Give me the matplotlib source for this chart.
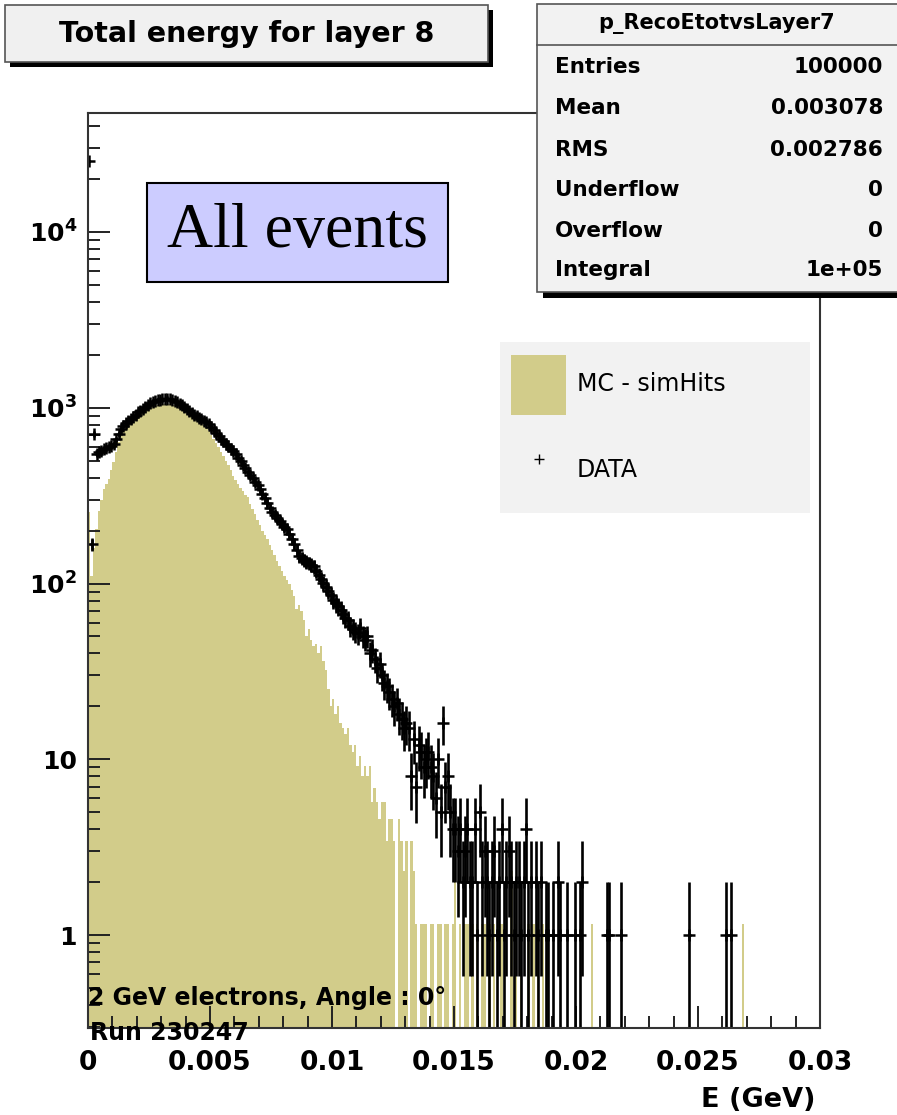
import matplotlib
matplotlib.use("Agg")
import matplotlib.pyplot as plt
import numpy as np
from matplotlib.patches import Rectangle
from matplotlib.lines import Line2D
from matplotlib.ticker import FixedLocator, FixedFormatter, MultipleLocator, FuncFormatter

plt.rcParams['font.family'] = ['DejaVu Sans']
plt.rcParams['mathtext.fontset'] = 'dejavusans'

# histogram binning: 300 bins of 0.0001 GeV
bin_width = 0.0001
n_bins = 300

# MC - simHits (weighted, ~1.15 per entry in the tail)
mc_counts = [
    255, 110, 160, 204, 260, 300, 345, 370, 393, 440,
    491, 560, 640, 700, 750, 790, 830, 865, 895, 920,
    940, 960, 975, 990, 1000, 1010, 1020, 1030, 1040, 1045,
    1050, 1055, 1054, 1050, 1045, 1035, 1020, 1010, 1000, 986,
    965, 945, 925, 900, 880, 850, 832, 800, 770, 740,
    700, 665, 630, 595, 560, 530, 500, 470, 440, 410,
    390, 370, 350, 335, 320, 310, 285, 265, 250, 230,
    215, 200, 190, 180, 165, 155, 145, 135, 125, 118,
    110, 105, 100, 92, 85, 72, 75, 70, 62, 50,
    55, 48, 44, 45, 40, 44, 36, 32, 25, 20,
    22, 18, 20, 16, 15, 14, 15, 12, 11, 12,
    9.2, 10.4, 8, 9.2, 8, 9.2, 5.75, 6.9, 5.75, 4.6,
    5.75, 5.75, 3.45, 4.6, 4.6, 3.45, 0, 4.6, 3.45, 2.3,
    3.45, 0, 3.45, 2.3, 1.15, 0, 1.15, 1.15, 1.15, 0,
    1.15, 1.15, 0, 1.15, 1.15, 0, 1.15, 1.15, 0, 1.15,
    2.3, 0, 1.15, 0, 1.15, 1.15, 0, 1.15, 0, 1.15,
    0, 1.15, 1.15, 0, 1.15, 0, 1.15, 0, 0, 1.15,
    0, 0, 0, 2.3, 0, 1.15, 0, 1.15, 0, 0,
    1.15, 0, 1.15, 0, 1.15, 0, 1.15, 0, 1.15, 0,
    0, 0, 0, 0, 0, 0, 0, 0, 0, 0,
    0, 0, 0, 0, 0, 0, 1.15, 0, 0, 0,
    0, 0, 0, 0, 0, 0, 0, 0, 0, 0,
    0, 0, 0, 0, 0, 0, 0, 0, 0, 0,
    0, 0, 0, 0, 0, 0, 0, 0, 0, 0,
    0, 0, 0, 0, 0, 0, 0, 0, 0, 0,
    0, 0, 0, 0, 0, 0, 0, 0, 0, 0,
    0, 0, 0, 0, 0, 0, 0, 0, 1.15, 0,
    0, 0, 0, 0, 0, 0, 0, 0, 0, 0,
    0, 0, 0, 0, 0, 0, 0, 0, 0, 0,
    0, 0, 0, 0, 0, 0, 0, 0, 0, 0,
]

# DATA (p_RecoEtotvsLayer7), 100000 entries
data_counts = [
    25400, 167, 710, 545, 561, 570, 580, 590, 600, 605,
    620, 660, 710, 759, 790, 815, 840, 865, 890, 915,
    940, 961, 985, 1010, 1035, 1060, 1082, 1095, 1105, 1112,
    1118, 1122, 1125, 1120, 1110, 1095, 1075, 1054, 1030, 1005,
    985, 960, 935, 915, 895, 875, 860, 845, 830, 810,
    780, 750, 720, 690, 665, 645, 625, 605, 585, 568,
    545, 520, 500, 475, 455, 431, 415, 397, 380, 362,
    345, 325, 305, 288, 270, 255, 245, 236, 226, 218,
    210, 204, 192, 180, 168, 155, 143, 140, 136, 133,
    130, 128, 125, 118, 112, 106, 101, 96, 91, 86,
    81, 77, 74, 71, 67, 64, 62, 57, 55, 53,
    52, 56, 50, 48, 50, 40, 42, 37, 33, 35,
    30, 27, 26, 24, 22, 20, 21, 18, 17, 15,
    16, 15, 8, 13, 7, 12, 11, 9, 10, 11,
    9, 8, 6, 10, 5, 16, 7, 8, 5, 4,
    4, 3, 4, 2, 3, 4, 2, 2, 4, 1,
    5, 2, 3, 2, 1, 2, 3, 1, 2, 4,
    1, 2, 3, 2, 1, 2, 2, 1, 2, 4,
    1, 2, 0, 2, 1, 2, 0, 1, 1, 0,
    1, 0, 2, 1, 0, 0, 1, 0, 0, 1,
    0, 1, 2, 0, 0, 0, 0, 0, 0, 0,
    0, 0, 1, 1, 0, 0, 0, 0, 1, 0,
    0, 0, 0, 0, 0, 0, 0, 0, 0, 0,
    0, 0, 0, 0, 0, 0, 0, 0, 0, 0,
    0, 0, 0, 0, 0, 0, 1, 0, 0, 0,
    0, 0, 0, 0, 0, 0, 0, 0, 0, 0,
    0, 1, 0, 1, 0, 0, 0, 0, 0, 0,
    0, 0, 0, 0, 0, 0, 0, 0, 0, 0,
    0, 0, 0, 0, 0, 0, 0, 0, 0, 0,
    0, 0, 0, 0, 0, 0, 0, 0, 0, 0,
]

stat_names = ['Entries', 'Mean', 'RMS', 'Underflow', 'Overflow', 'Integral']
stat_values = ['100000', '0.003078', '0.002786', '0', '0', '1e+05']

x_ticks = [0, 0.005, 0.01, 0.015, 0.02, 0.025, 0.03]
y_ticks = [1, 10, 100, 1000, 10000]
y_labels = ['1', '10', r'$\mathbf{10^{2}}$', r'$\mathbf{10^{3}}$', r'$\mathbf{10^{4}}$']

mc_color = '#d2cc8a'

W, H = 897, 1115
fig = plt.figure(figsize=(W / 100, H / 100), dpi=100)


def fx(x):
    return x / W


def fy(y):
    return 1 - y / H


def box(x0, y0, x1, y1, fc, shadow=0, ec='#555555', lw=1.2, z=10):
    if shadow:
        fig.add_artist(Rectangle((fx(x0 + shadow), fy(y1 + shadow)), (x1 - x0) / W, (y1 - y0) / H,
                                 transform=fig.transFigure, fc='black', ec='none', zorder=z))
    fig.add_artist(Rectangle((fx(x0), fy(y1)), (x1 - x0) / W, (y1 - y0) / H,
                             transform=fig.transFigure, fc=fc, ec=ec, lw=lw, zorder=z + 1))


ax = fig.add_axes([fx(88), fy(1028), (820 - 88) / W, (1028 - 113) / H])

edges = np.arange(n_bins + 1) * bin_width
centers = edges[:-1] + bin_width / 2
mc = np.array(mc_counts, dtype=float)
data = np.array(data_counts, dtype=float)

ax.stairs(mc, edges, fill=True, color=mc_color, baseline=0, zorder=1)

m = data > 0
ax.errorbar(centers[m], data[m], yerr=np.sqrt(data[m]), xerr=bin_width / 2,
            fmt='+', color='black', ms=8, mew=1.8, elinewidth=1.9, capsize=0, zorder=2)

ax.set_yscale('log')
ax.set_xlim(0, 0.03)
ax.set_ylim(0.296, 47500)

ax.xaxis.set_major_locator(FixedLocator(x_ticks))
ax.xaxis.set_major_formatter(FuncFormatter(lambda v, p: '%g' % round(v, 4)))
ax.xaxis.set_minor_locator(MultipleLocator(0.001))
ax.yaxis.set_major_locator(FixedLocator(y_ticks))
ax.yaxis.set_major_formatter(FixedFormatter(y_labels))
ax.yaxis.set_minor_locator(FixedLocator([k * 10.0 ** e for e in range(-1, 5) for k in range(2, 10)]))
ax.yaxis.set_minor_formatter(FixedFormatter([]))

ax.tick_params(which='both', direction='in', top=False, right=False, width=1.4, colors='#222222')
ax.tick_params(which='major', length=16)
ax.tick_params(which='minor', length=8.5)
ax.tick_params(axis='x', which='major', pad=16, labelsize=19)
ax.tick_params(axis='y', which='major', pad=8, labelsize=18)
for lab in ax.get_xticklabels() + ax.get_yticklabels():
    lab.set_fontweight('bold')
    lab.set_color('black')
for s in ax.spines.values():
    s.set_linewidth(1.5)
    s.set_color('#333333')

fig.text(fx(815), fy(1100), 'E (GeV)', ha='right', va='center', fontsize=19.5, fontweight='bold')

# title box
box(5, 5, 488, 62, '#f0f0f0', shadow=5)
fig.text(fx(247), fy(34), 'Total energy for layer 8', ha='center', va='center',
         fontsize=20.5, fontweight='bold', zorder=20)

# stats box
box(537, 4, 905, 292, '#f2f2f2', shadow=6)
fig.add_artist(Line2D([fx(537), fx(905)], [fy(45), fy(45)], transform=fig.transFigure,
                      color='#555555', lw=1.2, zorder=20))
fig.text(fx(717), fy(24), 'p_RecoEtotvsLayer7', ha='center', va='center',
         fontsize=15, fontweight='bold', zorder=20)
row_y = [67, 108, 150, 190, 231, 270]
for name, val, yy in zip(stat_names, stat_values, row_y):
    fig.text(fx(555), fy(yy), name, ha='left', va='center', fontsize=15.5, fontweight='bold', zorder=20)
    fig.text(fx(883), fy(yy), val, ha='right', va='center', fontsize=15.5, fontweight='bold', zorder=20)

# "All events" label
box(147, 183, 448, 282, '#ccccff', ec='black', lw=1.5)
fig.text(fx(297.5), fy(232), 'All events', ha='center', va='center',
         fontsize=46, family='Liberation Serif', zorder=20)

# legend
box(500, 342, 810, 513, '#f2f2f2', ec='none', lw=0, z=5)
handles = [Rectangle((0, 0), 1, 1, fc=mc_color, ec='none'),
           Line2D([], [], marker='+', ls='none', color='black', ms=7, mew=1.0)]
leg = fig.legend(handles, ['MC - simHits', 'DATA'], loc='upper left',
                 bbox_to_anchor=(fx(511), fy(355)), bbox_transform=fig.transFigure,
                 frameon=False, fontsize=17, borderpad=0, borderaxespad=0,
                 handlelength=2.35, handleheight=3.5, handletextpad=0.45, labelspacing=1.1)
leg.set_zorder(20)

fig.text(fx(88), fy(998), '2 GeV electrons, Angle : 0°', ha='left', va='center',
         fontsize=17, fontweight='bold', zorder=30)
fig.text(fx(90), fy(1033), 'Run 230247', ha='left', va='center',
         fontsize=17, fontweight='bold', zorder=30)

fig.savefig('out.png', dpi=100, facecolor='white')
